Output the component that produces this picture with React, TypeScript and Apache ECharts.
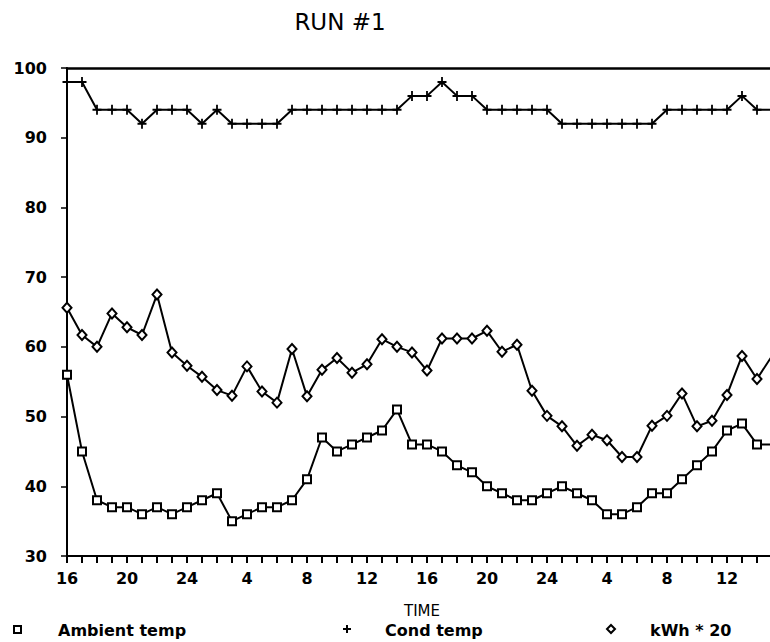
import React, { useEffect, useRef } from "react";
import * as echarts from "echarts";

// hours since 16:00 on day one
const hourIndex: number[] = Array.from({ length: 48 }, (_, i) => i);
const tickHours: string[] = ["16", "20", "24", "4", "8", "12", "16", "20", "24", "4", "8", "12"];

const ambientTemp: number[] = [
  56, 45, 38, 37, 37, 36, 37, 36, 37, 38, 39, 35, 36, 37, 37, 38, 41, 47, 45, 46, 47, 48, 51, 46,
  46, 45, 43, 42, 40, 39, 38, 38, 39, 40, 39, 38, 36, 36, 37, 39, 39, 41, 43, 45, 48, 49, 46, 46,
];
const condTemp: number[] = [
  98, 98, 94, 94, 94, 92, 94, 94, 94, 92, 94, 92, 92, 92, 92, 94, 94, 94, 94, 94, 94, 94, 94, 96,
  96, 98, 96, 96, 94, 94, 94, 94, 94, 92, 92, 92, 92, 92, 92, 92, 94, 94, 94, 94, 94, 96, 94, 94,
];
const kwhTimes20: number[] = [
  65.6, 61.7, 60, 64.8, 62.8, 61.7, 67.5, 59.2, 57.3, 55.7, 53.8, 53.0, 57.2, 53.6, 52.0, 59.7,
  52.9, 56.7, 58.4, 56.3, 57.5, 61.1, 60.0, 59.2, 56.6, 61.2, 61.2, 61.2, 62.3, 59.3, 60.3, 53.7,
  50.1, 48.6, 45.8, 47.4, 46.6, 44.2, 44.2, 48.7, 50.1, 53.3, 48.6, 49.4, 53.1, 58.7, 55.4, 58.7,
];

const FONT = "DejaVu Sans";
const PLUS = "path://M0,4H10V6H0Z M4,0H6V10H4Z";

export default function App() {
  const ref = useRef<HTMLDivElement>(null);
  useEffect(() => {
    if (!ref.current) return;
    const chart = echarts.init(ref.current, undefined, { renderer: "svg" });
    const pairs = (vals: number[]) => hourIndex.map((h, i) => [h, vals[i]]);
    const xMax = (770 - 67) / 15;
    chart.setOption({
      animation: false,
      backgroundColor: "#fff",
      grid: { left: 67, right: 0, top: 68, bottom: 86, containLabel: false },
      xAxis: [
        {
          type: "value",
          min: 0,
          max: xMax,
          interval: 1,
          axisLine: { show: true, lineStyle: { color: "#000", width: 2 } },
          axisTick: { show: true, inside: false, length: 7, lineStyle: { color: "#000", width: 2 } },
          splitLine: { show: false },
          axisLabel: {
            margin: 14,
            color: "#000",
            fontFamily: FONT,
            fontWeight: "bold",
            fontSize: 16,
            showMaxLabel: false,
            formatter: (v: number) => {
              if (Math.abs(v - Math.round(v)) > 1e-6) return "";
              const r = Math.round(v);
              if (r % 4 !== 0) return "";
              return tickHours[r / 4] ?? "";
            },
          },
        },
        {
          type: "value",
          position: "top",
          min: 0,
          max: xMax,
          axisLine: { show: true, onZero: false, lineStyle: { color: "#000", width: 2.5 } },
          axisTick: { show: false },
          axisLabel: { show: false },
          splitLine: { show: false },
        },
      ],
      yAxis: {
        type: "value",
        min: 30,
        max: 100,
        interval: 10,
        axisLine: { show: true, lineStyle: { color: "#000", width: 2 } },
        axisTick: { show: true, length: 6, lineStyle: { color: "#000", width: 1.5 } },
        splitLine: { show: false },
        axisLabel: {
          margin: 20,
          color: "#000",
          fontFamily: FONT,
          fontWeight: "bold",
          fontSize: 16,
        },
      },
      series: [
        {
          name: "Ambient temp",
          type: "line",
          data: pairs(ambientTemp),
          symbol: "rect",
          symbolSize: 8,
          showAllSymbol: true,
          lineStyle: { color: "#000", width: 2 },
          itemStyle: { color: "#fff", borderColor: "#000", borderWidth: 2 },
        },
        {
          name: "Cond temp",
          type: "line",
          data: pairs(condTemp),
          symbol: PLUS,
          symbolSize: [9, 10],
          showAllSymbol: true,
          lineStyle: { color: "#000", width: 2 },
          itemStyle: { color: "#000" },
        },
        {
          name: "kWh * 20",
          type: "line",
          data: pairs(kwhTimes20),
          symbol: "diamond",
          symbolSize: [9, 10],
          showAllSymbol: true,
          lineStyle: { color: "#000", width: 2 },
          itemStyle: { color: "#fff", borderColor: "#000", borderWidth: 2 },
        },
      ],
      graphic: [
        {
          type: "text",
          x: 340,
          y: 22,
          style: {
            text: "RUN #1",
            fill: "#000",
            font: `normal 23px "${FONT}"`,
            textAlign: "center",
            textVerticalAlign: "middle",
          },
        },
        {
          type: "text",
          x: 422,
          y: 611,
          style: {
            text: "TIME",
            fill: "#000",
            font: `normal 15px "${FONT}"`,
            textAlign: "center",
            textVerticalAlign: "middle",
          },
        },
        {
          type: "rect",
          shape: { x: 14, y: 626, width: 7, height: 7 },
          style: { fill: "#fff", stroke: "#000", lineWidth: 2 },
        },
        {
          type: "text",
          x: 58,
          y: 630,
          style: {
            text: "Ambient temp",
            fill: "#000",
            font: `bold 16px "${FONT}"`,
            textAlign: "left",
            textVerticalAlign: "middle",
          },
        },
        { type: "rect", shape: { x: 343, y: 628, width: 8, height: 2 }, style: { fill: "#000" } },
        { type: "rect", shape: { x: 346, y: 625, width: 2, height: 8 }, style: { fill: "#000" } },
        {
          type: "text",
          x: 385,
          y: 630,
          style: {
            text: "Cond temp",
            fill: "#000",
            font: `bold 16px "${FONT}"`,
            textAlign: "left",
            textVerticalAlign: "middle",
          },
        },
        {
          type: "polygon",
          shape: { points: [[611, 625], [615, 629], [611, 633], [607, 629]] },
          style: { fill: "#fff", stroke: "#000", lineWidth: 2 },
        },
        {
          type: "text",
          x: 650,
          y: 630,
          style: {
            text: "kWh * 20",
            fill: "#000",
            font: `bold 16px "${FONT}"`,
            textAlign: "left",
            textVerticalAlign: "middle",
          },
        },
      ],
    });
    return () => chart.dispose();
  }, []);
  return (
    <div
      ref={ref}
      style={{ position: "fixed", left: 0, top: 0, width: 770, height: 642, background: "#fff" }}
    />
  );
}
